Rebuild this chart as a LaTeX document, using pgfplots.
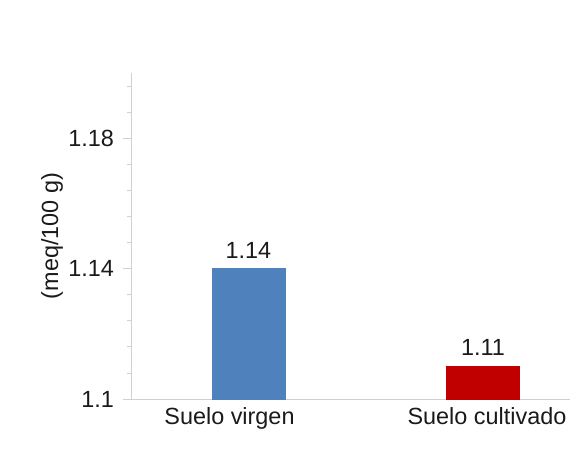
\documentclass[border=0pt]{standalone}
\usepackage{fontspec}
\setmainfont{Liberation Sans}
\usepackage{pgfplots}
\pgfplotsset{compat=1.18}
\definecolor{barblue}{HTML}{4F81BD}
\definecolor{barred}{HTML}{C00000}
\definecolor{axgray}{HTML}{D0D0D0}
\definecolor{txt}{HTML}{1A1A1A}
\begin{document}
\begin{tikzpicture}
\begin{axis}[
  scale only axis,
  width=439bp, height=326bp,
  xmin=-0.501, xmax=1.371,
  ymin=1.1, ymax=1.2,
  axis lines*=left,
  axis line style={axgray, line width=0.8bp, -},
  xtick={-0.081,1.017},
  xticklabels={Suelo virgen, Suelo cultivado},
  x tick style={draw=none},
  ytick={1.1,1.14,1.18},
  yticklabels={1.1,1.14,1.18},
  minor ytick={1.108,1.116,1.124,1.132,1.148,1.156,1.164,1.172,1.188,1.196},
  y tick style={axgray, line width=0.8bp},
  tick align=outside,
  major tick length=7.5bp,
  minor tick length=4bp,
  /pgf/number format/assume math mode=true,
  tick label style={font=\fontsize{23.5}{27}\selectfont, text=txt},
  yticklabel style={xshift=-6bp},
  xticklabel style={yshift=2bp},
  ylabel={(meq/100 g)},
  ylabel style={at={(axis description cs:-0.18,0.5)}, anchor=center, rotate=0, font=\fontsize{23.5}{27}\selectfont, text=txt},
  ybar, bar width=73bp, bar shift=0pt,
  nodes near coords,
  point meta=explicit symbolic,
  nodes near coords style={font=\fontsize{23.5}{27}\selectfont, text=txt, anchor=south, yshift=7bp},
  clip=false,
]
\addplot[fill=barblue, draw=barblue] coordinates {(0,1.14) [1.14]};
\addplot[fill=barred, draw=barred] coordinates {(1,1.11) [1.11]};
\coordinate (ll) at (rel axis cs:0,0);
\end{axis}
\pgfresetboundingbox
\path (ll) ++(-131bp,-67bp) rectangle ++(585bp,466bp);
\end{tikzpicture}
\end{document}
